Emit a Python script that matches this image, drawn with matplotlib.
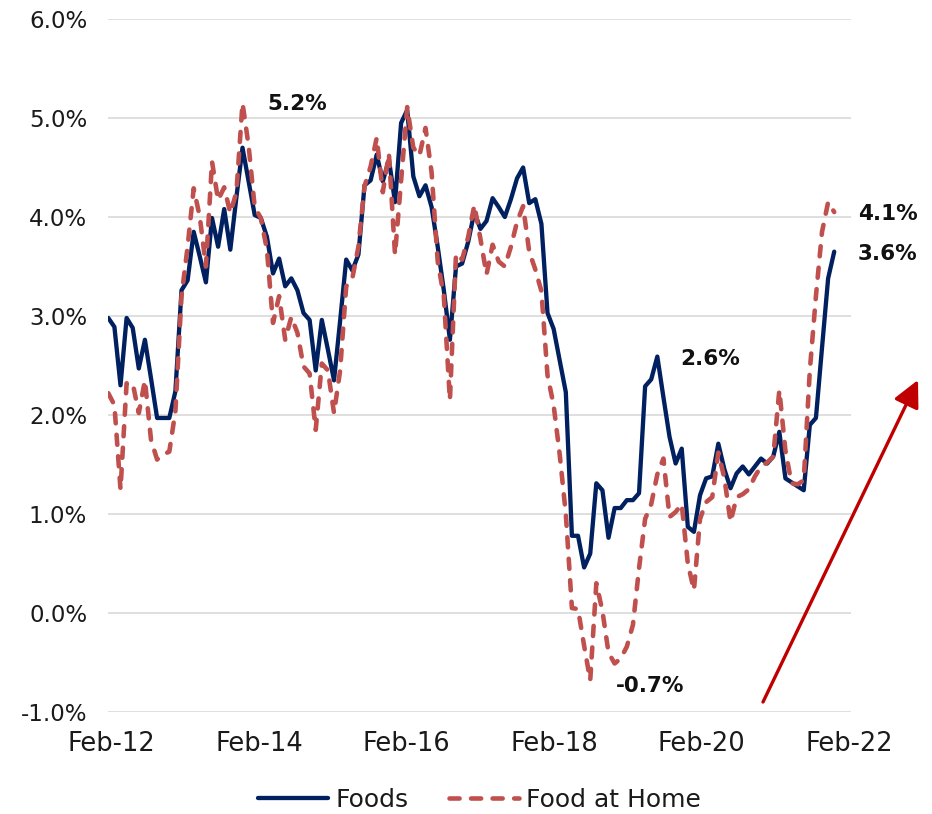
"""
Foods vs Food at Home, year-over-year % change, monthly Feb-12 .. Feb-22.
932x814 px output.
"""
import matplotlib
matplotlib.use("Agg")
import matplotlib.pyplot as plt
import matplotlib.ticker as mticker
import numpy as np

OUT_FILE = "out.png"

NAVY = "#002060"
RED = "#C0504D"
ARROW_RED = "#C00000"
GRID = "#D9D9D9"
TEXT = "#1A1A1A"

# monthly YoY % change
foods = [
    2.98, 2.89, 2.30, 2.98, 2.88, 2.47, 2.76, 2.37, 1.97, 1.97,
    1.97, 2.24, 3.26, 3.36, 3.85, 3.60, 3.34, 3.99, 3.70, 4.08,
    3.67, 4.20, 4.70, 4.36, 4.02, 3.99, 3.80, 3.43, 3.58, 3.30,
    3.38, 3.26, 3.03, 2.96, 2.45, 2.96, 2.66, 2.35, 2.95, 3.57,
    3.46, 3.62, 4.32, 4.37, 4.63, 4.36, 4.58, 4.15, 4.95, 5.08,
    4.41, 4.21, 4.32, 4.10, 3.70, 3.26, 2.76, 3.50, 3.53, 3.75,
    4.05, 3.88, 3.96, 4.19, 4.10, 4.00, 4.18, 4.39, 4.50, 4.14,
    4.18, 3.93, 3.03, 2.87, 2.55, 2.23, 0.78, 0.78, 0.46, 0.60,
    1.31, 1.24, 0.76, 1.06, 1.06, 1.14, 1.14, 1.21, 2.29, 2.36,
    2.59, 2.18, 1.78, 1.51, 1.66, 0.87, 0.82, 1.19, 1.36, 1.38,
    1.71, 1.45, 1.26, 1.41, 1.48, 1.40, 1.48, 1.56, 1.51, 1.58,
    1.83, 1.36, 1.32, 1.28, 1.24, 1.90, 1.97, 2.68, 3.38, 3.65,
]

food_at_home = [
    2.22, 2.10, 1.25, 2.32, 2.32, 2.02, 2.35, 1.75, 1.55, 1.60,
    1.63, 2.04, 3.20, 3.70, 4.29, 4.00, 3.50, 4.56, 4.17, 4.30,
    4.04, 4.25, 5.15, 4.72, 4.10, 3.99, 3.67, 2.93, 3.20, 2.76,
    2.99, 2.83, 2.49, 2.42, 1.85, 2.52, 2.45, 2.02, 2.45, 3.30,
    3.38, 3.70, 4.31, 4.51, 4.80, 4.25, 4.64, 3.62, 4.37, 5.11,
    4.70, 4.62, 4.90, 4.45, 3.55, 3.20, 2.15, 3.63, 3.57, 3.80,
    4.12, 3.78, 3.42, 3.72, 3.55, 3.50, 3.70, 3.95, 4.11, 3.65,
    3.47, 3.25, 2.40, 2.10, 1.60, 1.00, 0.05, 0.04, -0.33, -0.68,
    0.30, 0.02, -0.40, -0.51, -0.46, -0.34, -0.12, 0.45, 0.95, 1.10,
    1.40, 1.56, 0.97, 1.02, 1.10, 0.50, 0.23, 0.95, 1.12, 1.17,
    1.62, 1.36, 0.92, 1.17, 1.20, 1.25, 1.38, 1.48, 1.52, 1.58,
    2.25, 1.64, 1.31, 1.30, 1.34, 2.45, 3.20, 3.85, 4.15, 4.05,
]

tick_labels = ["Feb-12", "Feb-14", "Feb-16", "Feb-18", "Feb-20", "Feb-22"]

# callouts: (text, month index, value, horizontal alignment)
callouts = [
    ("5.2%", 30.9, 5.14, "center"),
    ("2.6%", 98.6, 2.57, "center"),
    ("-0.7%", 88.8, -0.74, "center"),
    ("4.1%", 122.9, 4.03, "left"),
    ("3.6%", 122.9, 3.63, "left"),
]


def make_chart():
    fig = plt.figure(figsize=(9.32, 8.14), dpi=100)
    fig.patch.set_facecolor("white")
    ax = fig.add_axes([108 / 932, 102 / 814, 743 / 932, 693 / 814])

    x = np.arange(len(foods))
    ax.plot(x, foods, color=NAVY, lw=3.1, solid_joinstyle="round",
            solid_capstyle="round", label="Foods", zorder=3)
    ax.plot(x, food_at_home, color=RED, lw=3.3, ls=(0, (2.2, 2.5)),
            dash_capstyle="round", dash_joinstyle="round",
            label="Food at Home", zorder=4)

    ax.set_ylim(-1, 6)
    ax.set_xlim(-0.05, 121.75)
    ax.yaxis.set_major_locator(mticker.MultipleLocator(1))
    ax.yaxis.set_major_formatter(mticker.FuncFormatter(lambda v, _: f"{v:.1f}%"))
    ax.set_xticks(np.linspace(0.5, 121.5, len(tick_labels)))
    ax.set_xticklabels(tick_labels)
    ax.tick_params(length=0, colors=TEXT, pad=14)
    ax.tick_params(axis="x", labelsize=18.5)
    ax.tick_params(axis="y", labelsize=16.5, pad=15)

    ax.yaxis.grid(True, color=GRID, lw=1.2)
    ax.set_axisbelow(True)
    for spine in ax.spines.values():
        spine.set_visible(False)

    for txt, xi, yv, ha in callouts:
        ax.text(xi, yv, txt, ha=ha, va="center", fontsize=15.5,
                fontweight="bold", color="#111111", clip_on=False)

    # red trend arrow, partly outside the plot area
    ax.annotate("", xy=(918, 814 - 380), xytext=(763, 814 - 702),
                xycoords="figure pixels", textcoords="figure pixels",
                arrowprops=dict(arrowstyle="-|>,head_length=0.9,head_width=0.45",
                                color=ARROW_RED, lw=2.4, shrinkA=0, shrinkB=0,
                                mutation_scale=18))

    fig.legend(loc="center", bbox_to_anchor=(479.5 / 932, 14 / 814), ncol=2,
               frameon=False, fontsize=18, handlelength=2.8,
               handletextpad=0.3, columnspacing=1.6, labelcolor=TEXT)

    fig.savefig(OUT_FILE, dpi=100, facecolor=fig.get_facecolor())
    plt.close(fig)


if __name__ == "__main__":
    make_chart()
